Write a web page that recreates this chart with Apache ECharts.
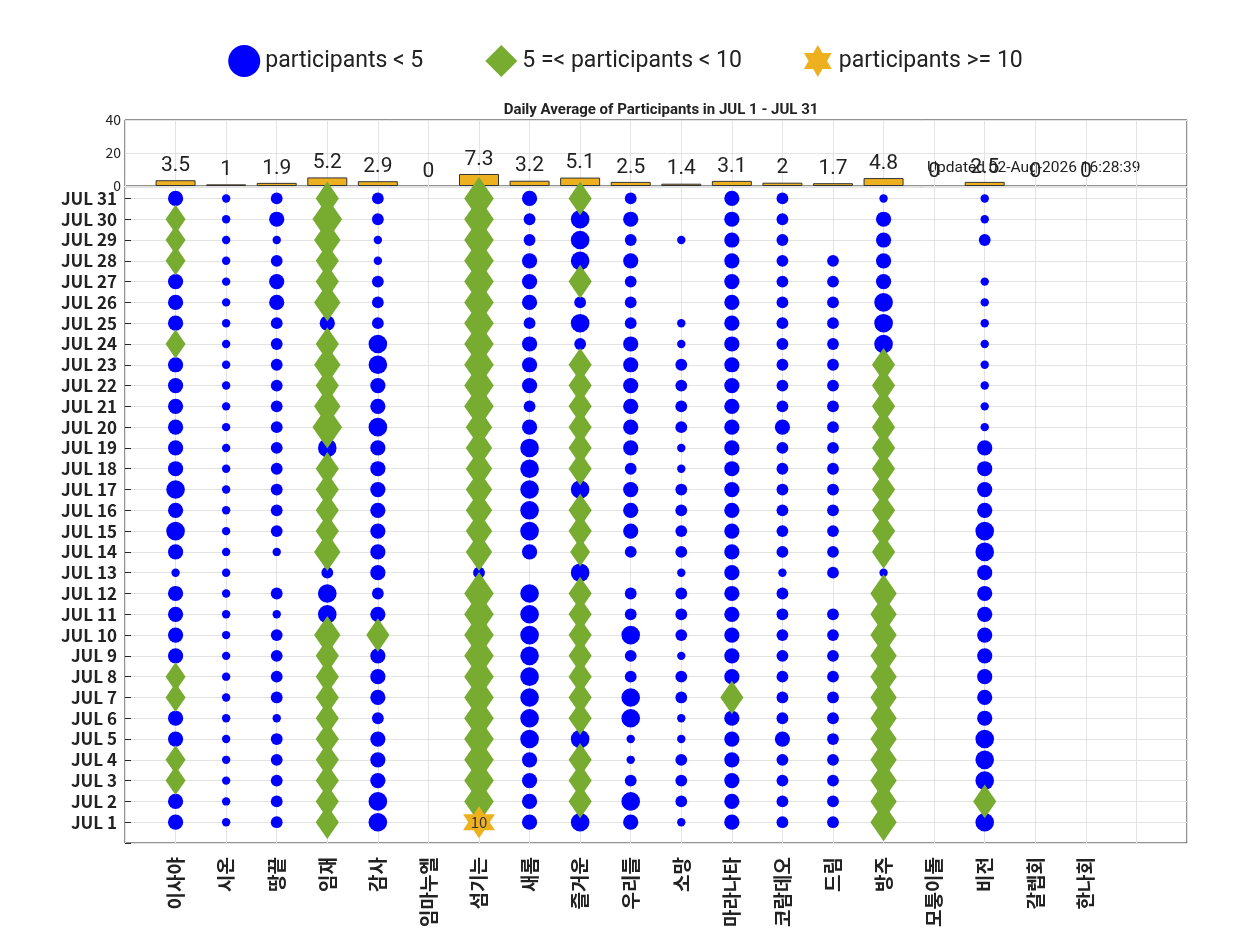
<!DOCTYPE html>
<html>
<head>
<meta charset="utf-8">
<script src="https://cdn.jsdelivr.net/npm/echarts@6/dist/echarts.min.js"></script>
<style>html,body{margin:0;padding:0;background:#fff}#main{width:1251px;height:938px}</style>
</head>
<body>
<div id="main"></div>
<script>
var groups = ['이사야','시온','땅끝','임재','감사','임마누엘','섬기는','새롬','즐거운','우리들','소망','마라나타','코람데오','드림','방주','모퉁이돌','비전','갈렙회','한나회'];
var averages = [3.5,1,1.9,5.2,2.9,0,7.3,3.2,5.1,2.5,1.4,3.1,2,1.7,4.8,0,2.5,0,0];
var dayLabels = [];
for (var d = 1; d <= 31; d++) dayLabels.push('JUL ' + d);

// participants per day (JUL 1 .. JUL 31), 0 = no meeting
var daily = {
  '이사야':   [3,3,5,5,3,3,5,5,3,3,3,3,1,3,4,3,4,3,3,3,3,3,3,5,3,3,3,5,5,5,3],
  '시온':     [1,1,1,1,1,1,1,1,1,1,1,1,1,1,1,1,1,1,1,1,1,1,1,1,1,1,1,1,1,1,1],
  '땅끝':     [2,2,2,2,2,1,2,2,2,2,1,2,0,1,2,2,2,2,2,2,2,2,2,2,2,3,3,2,1,3,2],
  '임재':     [6,6,6,6,6,6,6,6,6,7,4,4,2,7,6,6,6,6,4,8,7,6,7,6,3,7,6,6,7,8,6],
  '감사':     [4,4,3,3,3,2,3,3,3,6,3,2,3,3,3,3,3,3,3,4,3,3,4,4,2,2,2,1,1,2,2],
  '임마누엘': [0,0,0,0,0,0,0,0,0,0,0,0,0,0,0,0,0,0,0,0,0,0,0,0,0,0,0,0,0,0,0],
  '섬기는':   [10,8,8,8,8,8,8,8,8,8,8,8,2,7,7,7,7,7,7,7,8,8,8,8,8,8,8,8,8,8,8],
  '새롬':     [3,3,3,3,4,4,4,4,4,4,4,4,0,3,4,4,4,4,4,3,2,3,3,3,2,3,3,3,2,2,3],
  '즐거운':   [4,6,6,6,4,6,6,6,6,6,6,6,4,5,6,6,4,6,6,6,6,6,6,2,4,2,6,4,4,4,6],
  '우리들':   [3,4,2,1,1,4,4,2,2,4,2,2,0,2,3,3,3,2,3,3,3,3,3,3,2,2,2,3,2,3,2],
  '소망':     [1,2,2,2,1,1,2,2,1,2,2,2,1,2,2,2,2,1,1,2,2,2,2,1,1,0,0,0,1,0,0],
  '마라나타': [3,3,3,3,3,3,6,3,3,3,3,3,3,3,3,3,3,3,3,3,3,3,3,3,3,3,3,3,3,3,3],
  '코람데오': [2,2,2,2,3,2,2,2,2,2,2,2,1,2,2,2,2,2,2,3,2,2,2,2,2,2,2,2,2,2,2],
  '드림':     [2,2,2,2,2,2,2,2,2,2,2,0,2,2,2,2,2,2,2,2,2,2,2,2,2,2,2,2,0,0,0],
  '방주':     [7,7,7,7,7,7,7,7,7,7,7,7,1,6,6,6,6,6,6,6,6,6,6,4,4,4,3,3,3,3,1],
  '모퉁이돌': [0,0,0,0,0,0,0,0,0,0,0,0,0,0,0,0,0,0,0,0,0,0,0,0,0,0,0,0,0,0,0],
  '비전':     [4,6,4,4,4,3,3,3,3,3,3,3,3,4,4,3,3,3,3,1,1,1,1,1,1,1,1,0,2,1,1],
  '갈렙회':   [0,0,0,0,0,0,0,0,0,0,0,0,0,0,0,0,0,0,0,0,0,0,0,0,0,0,0,0,0,0,0],
  '한나회':   [0,0,0,0,0,0,0,0,0,0,0,0,0,0,0,0,0,0,0,0,0,0,0,0,0,0,0,0,0,0,0]
};
var updatedText = 'Updated 02-Aug-2026 16:28:39';

var small = [], mid = [], big = [];
groups.forEach(function (g, i) {
  daily[g].forEach(function (v, k) {
    if (!v) return;
    var p = [i + 1, k + 1, v];
    if (v < 5) small.push(p); else if (v < 10) mid.push(p); else big.push(p);
  });
});
var barData = averages.map(function (v, i) {
  return { value: [i + 1, v], itemStyle: v ? {} : { borderWidth: 0 } };
});

var STAR = 'path://M0,-10 L2.9,-5 L8.66,-5 L5.8,0 L8.66,5 L2.9,5 L0,10 L-2.9,5 L-8.66,5 L-5.8,0 L-8.66,-5 L-2.9,-5 Z';
var BLUE = '#0000ff', GREEN = '#77ac30', GOLD = '#edb120';
var font = '"Noto Sans CJK KR", "Noto Sans", sans-serif';

var xCommon = {
  type: 'value', min: 0, max: 21, interval: 1,
  axisLine: { show: false }, axisTick: { show: false },
  splitLine: { show: true, lineStyle: { color: '#e3e3e3' } }
};

var myChart = echarts.init(document.getElementById('main'));
var option = {
  backgroundColor: '#fff',
  animation: false,
  textStyle: { fontFamily: font },
  legend: {
    top: 40, left: 'center', itemGap: 62, itemWidth: 32, itemHeight: 32,
    textStyle: { fontSize: 23, color: '#222', fontFamily: 'Roboto, sans-serif' },
    data: [
      { name: 'participants < 5', icon: 'circle', itemStyle: { color: BLUE } },
      { name: '5 =< participants < 10', icon: 'diamond', itemStyle: { color: GREEN } },
      { name: 'participants >= 10', icon: STAR, itemStyle: { color: GOLD } }
    ]
  },
  title: {
    text: 'Daily Average of Participants in JUL 1 - JUL 31',
    left: 656, top: 98, textAlign: 'center',
    textStyle: { fontSize: 15, fontWeight: 'bold', color: '#222', fontFamily: 'Roboto, sans-serif' }
  },
  graphic: [{
    type: 'text', left: 927, top: 160,
    style: { text: updatedText, fontSize: 15.5, fill: '#222', fontFamily: 'Roboto, sans-serif' }
  }],
  grid: [
    { left: 125, right: 64, top: 120, height: 66, show: true, borderColor: '#262626', borderWidth: 1 },
    { left: 125, right: 64, top: 187, height: 656, show: true, borderColor: '#262626', borderWidth: 1 }
  ],
  xAxis: [
    Object.assign({ gridIndex: 0, axisLabel: { show: false } }, xCommon),
    Object.assign({ gridIndex: 1, axisLabel: {
      show: true, rotate: 90, fontSize: 19, color: '#222', fontWeight: 'bold', margin: 14,
      formatter: function (v) { return v >= 1 && v <= groups.length ? groups[v - 1] : ''; }
    } }, xCommon)
  ],
  yAxis: [
    { gridIndex: 0, type: 'value', min: 0, max: 40, interval: 20,
      axisLine: { show: false }, axisTick: { show: false },
      axisLabel: { fontSize: 14, color: '#222', margin: 4 },
      splitLine: { lineStyle: { color: '#e3e3e3' } } },
    { gridIndex: 1, type: 'value', min: 0, max: 31.55, interval: 1,
      axisLine: { show: false }, axisTick: { show: true, inside: true, length: 6, lineStyle: { color: '#262626' } },
      axisLabel: { fontSize: 17, fontWeight: 'bold', color: '#222', margin: 8, showMaxLabel: false,
        formatter: function (v) { return v >= 1 && v <= 31 ? dayLabels[v - 1] : ''; } },
      splitLine: { lineStyle: { color: '#e3e3e3' } } }
  ],
  series: [
    { type: 'bar', xAxisIndex: 0, yAxisIndex: 0, data: barData, barWidth: 40,
      itemStyle: { color: GOLD, borderColor: '#333', borderWidth: 1 },
      label: { show: true, position: 'top', distance: 4, fontSize: 21, color: '#222',
        fontFamily: 'Roboto, sans-serif', formatter: function (p) { return String(p.value[1]); } } },
    { name: 'participants < 5', type: 'scatter', xAxisIndex: 1, yAxisIndex: 1, data: small,
      symbol: 'circle', itemStyle: { color: BLUE, opacity: 1 },
      symbolSize: function (d) { return 5 + 3.4 * d[2]; } },
    { name: '5 =< participants < 10', type: 'scatter', xAxisIndex: 1, yAxisIndex: 1, data: mid,
      symbol: 'diamond', itemStyle: { color: GREEN, opacity: 1 },
      symbolSize: function (d) { var w = 4 + 3.2 * d[2]; return [w, w * 1.45]; } },
    { name: 'participants >= 10', type: 'scatter', xAxisIndex: 1, yAxisIndex: 1, data: big,
      symbol: STAR, itemStyle: { color: GOLD, opacity: 1 }, symbolSize: 32,
      label: { show: true, position: 'inside', fontSize: 15, color: '#333',
        formatter: function (p) { return String(p.value[2]); } } }
  ]
};
myChart.setOption(option);
</script>
</body>
</html>
